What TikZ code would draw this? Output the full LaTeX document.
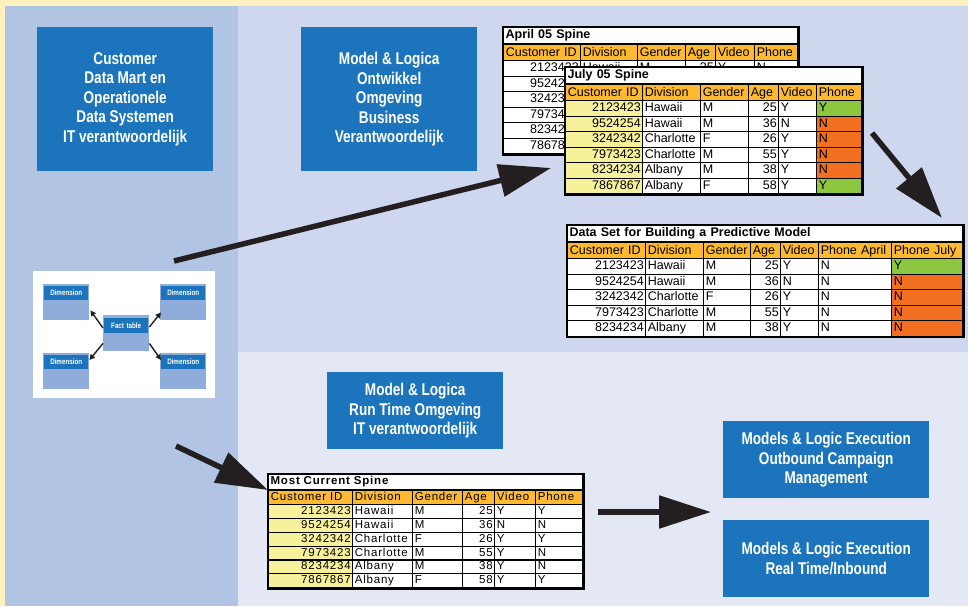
\documentclass[tikz,border=0pt]{standalone}
\usepackage{fontspec}
\setmainfont{Liberation Sans}
\newfontfamily\condfont[FakeStretch=0.8]{Liberation Sans}
\newfontfamily\spacedfont[LetterSpace=7]{Liberation Sans}
\usetikzlibrary{arrows.meta,matrix,fit,positioning}

\definecolor{cream}{HTML}{FFF0C0}
\definecolor{martpanel}{HTML}{B2C4E4}
\definecolor{devpanel}{HTML}{CFD7EF}
\definecolor{runpanel}{HTML}{E4E8F5}
\definecolor{boxblue}{HTML}{1C75BC}
\definecolor{dimblue}{HTML}{8FACDB}
\definecolor{hdr}{HTML}{FDBA30}
\definecolor{idyellow}{HTML}{F7F19C}
\definecolor{phgreen}{HTML}{8DC63F}
\definecolor{phorange}{HTML}{F26F22}
\definecolor{arrowblack}{HTML}{231F20}

\tikzset{
    bluebox/.style={fill=boxblue, text=white, align=center, inner sep=0pt,
        anchor=north west, font=\condfont\bfseries\fontsize{17}{19.5}\selectfont},
    dimbox/.style={fill=dimblue, inner sep=0pt, anchor=north west,
        minimum width=46pt, minimum height=36pt},
    dimhead/.style={fill=boxblue, text=white, inner xsep=2pt, inner ysep=0pt,
        anchor=north west, text width=40pt, minimum height=14pt, align=center,
        font=\condfont\bfseries\fontsize{7.8}{8}\selectfont},
    bigarrow/.style={draw=arrowblack, line width=5.5pt,
        -{Triangle[length=52pt,width=32pt]}},
    smallarrow/.style={draw=arrowblack, line width=1.4pt,
        -{Triangle[length=5.5pt,width=5.5pt]}},
    spine/.style={matrix of nodes, inner sep=0pt, anchor=north west,
        column sep=-1.2pt, row sep=-1.2pt,
        nodes={draw, line width=1.2pt, fill=white, inner xsep=2pt, inner ysep=0pt,
            minimum height=15.5pt, text height=9.2pt, text depth=2.6pt, align=left,
            font=\fontsize{12.5}{14}\selectfont},
        row 1/.style={nodes={fill=hdr, minimum height=16pt, align=left}}},
    spinetitle/.style={draw, line width=1.2pt, fill=white, inner xsep=2pt,
        inner ysep=0pt, minimum height=16pt, anchor=south west, align=left,
        text height=9.2pt, text depth=2.6pt,
        font=\bfseries\fontsize{12.5}{14}\selectfont},
    spineframe/.style={draw, line width=2.2pt, inner sep=0pt}
}

\begin{document}
\begin{tikzpicture}[x=1pt,y=-1pt]
            \useasboundingbox (0,0) rectangle (968,606);
            \fill[cream] (0,0) rectangle (968,606);
            \fill[martpanel] (5,6) rectangle (238,606);
            \fill[devpanel] (238,6) rectangle (968,352);
            \fill[runpanel] (238,352) rectangle (968,606);

            \node[bluebox, minimum width=176pt, minimum height=144pt] (martbox) at (37,27)
                {Customer\\Data Mart en\\Operationele\\Data Systemen\\IT verantwoordelijk};
            \node[bluebox, minimum width=176pt, minimum height=144pt] (devbox) at (301,27)
                {Model \& Logica\\Ontwikkel\\Omgeving\\Business\\Verantwoordelijk};
            \node[bluebox, minimum width=176pt, minimum height=77pt] (runbox) at (327,372)
                {Model \& Logica\\Run Time Omgeving\\IT verantwoordelijk};
            \node[bluebox, minimum width=206pt, minimum height=77pt] (outbox) at (723,421)
                {Models \& Logic Execution\\Outbound Campaign\\Management};
            \node[bluebox, minimum width=206pt, minimum height=77pt] (inbox) at (723,520)
                {Models \& Logic Execution\\Real Time/Inbound};

            \node[fill=white, inner sep=0pt, anchor=north west, minimum width=182pt,
                minimum height=127pt] (star) at (33,271) {};
            \node[dimbox] (dimtl) at (43,284) {};
            \node[dimbox] (dimtr) at (160,284) {};
            \node[dimbox] (dimbl) at (43,353) {};
            \node[dimbox] (dimbr) at (160,353) {};
            \node[dimbox] (fact) at (103,315) {};
            \node[dimhead] (dimtlhead) at (44,286) {Dimension};
            \node[dimhead] (dimtrhead) at (161,286) {Dimension};
            \node[dimhead] (dimblhead) at (44,355) {Dimension};
            \node[dimhead] (dimbrhead) at (161,355) {Dimension};
            \node[dimhead, minimum height=15pt] (facthead) at (104,318) {Fact table};
            \draw[smallarrow] ([yshift=-13pt]fact.north west) -- ([xshift=1pt,yshift=10pt]dimtl.south east);
            \draw[smallarrow] ([yshift=-12pt]fact.north east) -- ([xshift=1pt,yshift=8pt]dimtr.south west);
            \draw[smallarrow] ([yshift=8pt]fact.south west) -- ([yshift=-7pt]dimbl.north east);
            \draw[smallarrow] ([yshift=8pt]fact.south east) -- ([xshift=1pt,yshift=-7pt]dimbr.north west);

            \matrix (april) [spine,
                column 1/.style={nodes={text width=73pt, align=right}},
                column 2/.style={nodes={text width=53pt}},
                column 3/.style={nodes={text width=44pt}},
                column 4/.style={nodes={text width=26pt, align=right}},
                column 5/.style={nodes={text width=35pt}},
                column 6/.style={nodes={text width=39pt}}] at (503,44) {
                Customer ID & Division & Gender & Age & Video & Phone \\
                2123423 & Hawaii & M & 25 & Y & N \\
                9524254 & & & & & \\
                3242342 & & & & & \\
                7973423 & & & & & \\
                8234234 & & & & & \\
                7867867 & & & & & \\
            };
            \node[spinetitle, text width=290pt] (apriltitle) at (april.north west) {April 05 Spine};
            \node[spineframe, fit=(apriltitle)(april)] (aprilframe) {};

            \matrix (july) [spine,
                column 1/.style={nodes={text width=73pt, align=right, fill=idyellow}},
                column 2/.style={nodes={text width=54pt}},
                column 3/.style={nodes={text width=44pt}},
                column 4/.style={nodes={text width=26pt, align=right}},
                column 5/.style={nodes={text width=34pt}},
                column 6/.style={nodes={text width=41pt}}] at (565,84) {
                Customer ID & Division & Gender & Age & Video & Phone \\
                2123423 & Hawaii & M & 25 & Y & |[fill=phgreen]| Y \\
                9524254 & Hawaii & M & 36 & N & |[fill=phorange]| N \\
                3242342 & Charlotte & F & 26 & Y & |[fill=phorange]| N \\
                7973423 & Charlotte & M & 55 & Y & |[fill=phorange]| N \\
                8234234 & Albany & M & 38 & Y & |[fill=phorange]| N \\
                7867867 & Albany & F & 58 & Y & |[fill=phgreen]| Y \\
            };
            \node[spinetitle, text width=292pt] (julytitle) at (july.north west) {July 05 Spine};
            \node[spineframe, fit=(julytitle)(july)] (julyframe) {};

            \matrix (dataset) [spine,
                column 1/.style={nodes={text width=74pt, align=right}},
                column 2/.style={nodes={text width=54pt}},
                column 3/.style={nodes={text width=43pt}},
                column 4/.style={nodes={text width=26pt, align=right}},
                column 5/.style={nodes={text width=34pt}},
                column 6/.style={nodes={text width=69pt}},
                column 7/.style={nodes={text width=67pt}}] at (567,242) {
                Customer ID & Division & Gender & Age & Video & Phone April & Phone July \\
                2123423 & Hawaii & M & 25 & Y & N & |[fill=phgreen]| Y \\
                9524254 & Hawaii & M & 36 & N & N & |[fill=phorange]| N \\
                3242342 & Charlotte & F & 26 & Y & N & |[fill=phorange]| N \\
                7973423 & Charlotte & M & 55 & Y & N & |[fill=phorange]| N \\
                8234234 & Albany & M & 38 & Y & N & |[fill=phorange]| N \\
            };
            \node[spinetitle, text width=391pt] (datasettitle) at (dataset.north west)
                {Data Set for Building a Predictive Model};
            \node[spineframe, fit=(datasettitle)(dataset)] (datasetframe) {};

            \matrix (current) [spine,
                nodes={minimum height=13.8pt, text height=8.3pt, text depth=2.4pt,
                    font=\spacedfont\fontsize{11.5}{13}\selectfont},
                row 1/.style={nodes={fill=hdr, minimum height=14pt, align=left}},
                column 1/.style={nodes={text width=80pt, align=right, fill=idyellow}},
                column 2/.style={nodes={text width=56pt}},
                column 3/.style={nodes={text width=46pt}},
                column 4/.style={nodes={text width=28pt, align=right}},
                column 5/.style={nodes={text width=37pt}},
                column 6/.style={nodes={text width=43pt}}] at (268,490) {
                Customer ID & Division & Gender & Age & Video & Phone \\
                2123423 & Hawaii & M & 25 & Y & Y \\
                9524254 & Hawaii & M & 36 & N & N \\
                3242342 & Charlotte & F & 26 & Y & Y \\
                7973423 & Charlotte & M & 55 & Y & N \\
                8234234 & Albany & M & 38 & Y & N \\
                7867867 & Albany & F & 58 & Y & Y \\
            };
            \node[spinetitle, text width=310pt, minimum height=15pt, text height=8.3pt,
                text depth=2.4pt, font=\spacedfont\bfseries\fontsize{11.5}{13}\selectfont]
                (currenttitle) at (current.north west) {Most Current Spine};
            \node[spineframe, fit=(currenttitle)(current)] (currentframe) {};

            \coordinate (martout) at (174,261);
            \coordinate (julyin) at (551,168);
            \coordinate (julyout) at (872,133);
            \coordinate (datasetin) at (942,218);
            \coordinate (starout) at (176,446);
            \coordinate (currentin) at (268,490);
            \coordinate (currentout) at (598,512);
            \coordinate (execin) at (711,512);
            \draw[bigarrow] (martout) -- (julyin);
            \draw[bigarrow] (julyout) -- (datasetin);
            \draw[bigarrow] (starout) -- (currentin);
            \draw[bigarrow] (currentout) -- (execin);
        \end{tikzpicture}
\end{document}
